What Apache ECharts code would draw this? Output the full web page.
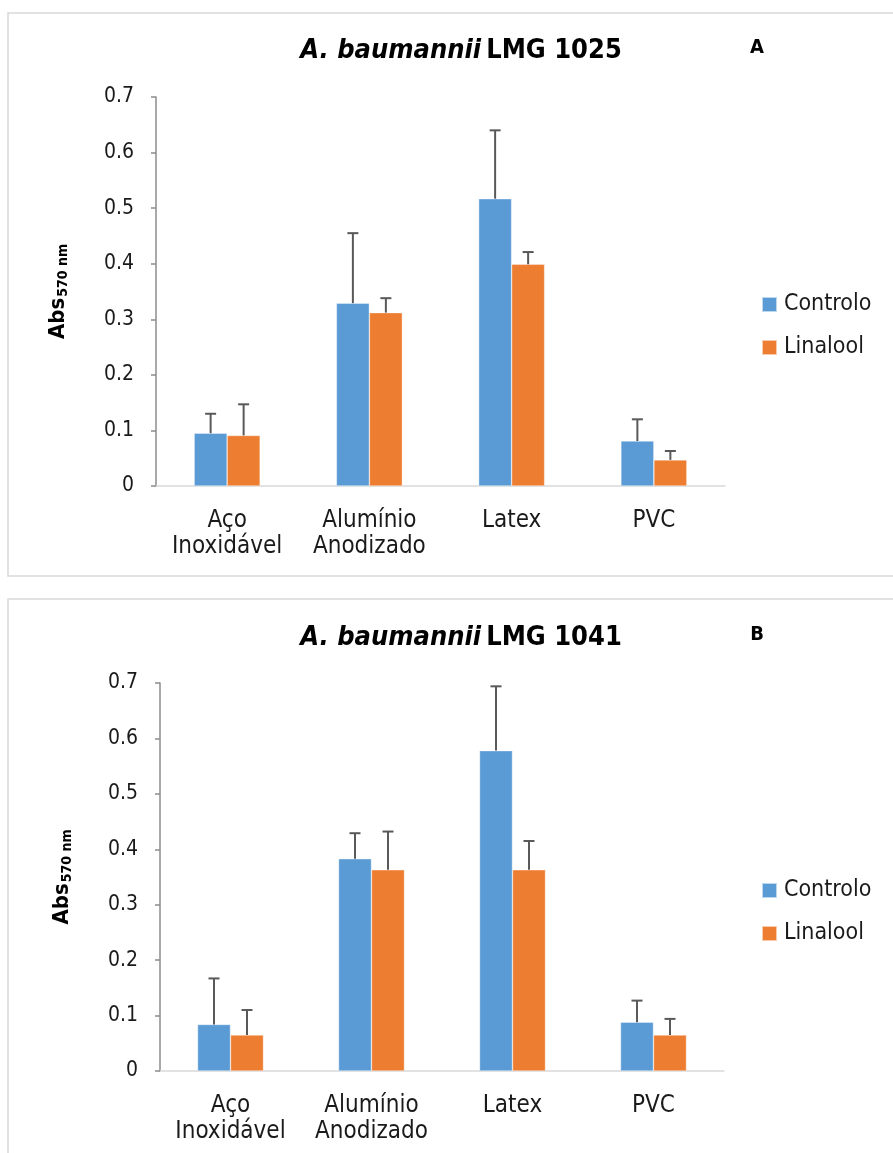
<!DOCTYPE html>
<html>
<head>
<meta charset="utf-8">
<script src="https://cdn.jsdelivr.net/npm/echarts@6/dist/echarts.min.js"></script>
<style>html,body{margin:0;padding:0;background:#fff}#c{width:893px;height:1153px}</style>
</head>
<body>
<div id="c"></div>
<script>
var categories = ['Aço\nInoxidável', 'Alumínio\nAnodizado', 'Latex', 'PVC'];
var seriesNames = ['Controlo', 'Linalool'];
// Chart A: A. baumannii LMG 1025
var controloA = [0.095, 0.329, 0.517, 0.081];
var controloErrA = [0.035, 0.126, 0.123, 0.039];
var linaloolA = [0.091, 0.312, 0.399, 0.047];
var linaloolErrA = [0.056, 0.026, 0.022, 0.016];
// Chart B: A. baumannii LMG 1041
var controloB = [0.084, 0.383, 0.578, 0.088];
var controloErrB = [0.083, 0.046, 0.116, 0.039];
var linaloolB = [0.065, 0.363, 0.363, 0.065];
var linaloolErrB = [0.045, 0.069, 0.052, 0.029];
var yTicks = {min: 0, max: 0.7, interval: 0.1};

var FONT = '"DejaVu Sans Condensed", "DejaVu Sans", sans-serif';
var BLUE = '#5B9BD5', ORANGE = '#ED7D31';
var BAR_W = 33;

function errSeries(name, vals, errs, gridIdx, side) {
  var data = vals.map(function (v, i) { return [i, v, v + errs[i]]; });
  return {
    type: 'custom', name: name + ' err', xAxisIndex: gridIdx, yAxisIndex: gridIdx,
    data: data, z: 5, silent: true,
    renderItem: function (params, api) {
      var lo = api.coord([api.value(0), api.value(1)]);
      var hi = api.coord([api.value(0), api.value(2)]);
      var x = lo[0] + side * BAR_W / 2;
      var cap = 5.5;
      return {
        type: 'group', children: [
          {type: 'line', shape: {x1: x, y1: lo[1], x2: x, y2: hi[1]}, style: {stroke: '#595959', lineWidth: 2}},
          {type: 'line', shape: {x1: x - cap, y1: hi[1], x2: x + cap, y2: hi[1]}, style: {stroke: '#595959', lineWidth: 2}}
        ]
      };
    }
  };
}

function barSeries(name, vals, gridIdx, color) {
  return {
    type: 'bar', name: name, xAxisIndex: gridIdx, yAxisIndex: gridIdx,
    data: vals, barWidth: BAR_W, barGap: '0%',
    itemStyle: {color: color, borderColor: 'rgba(255,255,255,0.6)', borderWidth: 0.6}
  };
}

function xAxis(gridIdx) {
  return {
    type: 'category', gridIndex: gridIdx, data: categories,
    axisLine: {lineStyle: {color: '#d9d9d9', width: 1.5}},
    axisTick: {show: false},
    axisLabel: {color: '#1a1a1a', fontSize: 24, fontFamily: FONT, lineHeight: 26, margin: 22, interval: 0}
  };
}
function yAxis(gridIdx) {
  return {
    type: 'value', gridIndex: gridIdx, min: yTicks.min, max: yTicks.max, interval: yTicks.interval,
    axisLine: {show: true, lineStyle: {color: '#8c8c8c', width: 1.5}},
    axisTick: {show: true, length: 5, lineStyle: {color: '#8c8c8c', width: 1.5}},
    splitLine: {show: false},
    axisLabel: {color: '#1a1a1a', fontSize: 21, fontFamily: FONT, margin: 22},
    name: '{a|Abs}{b|570 nm}', nameLocation: 'middle', nameRotate: 90, nameGap: 86,
    nameTextStyle: {
      rich: {
        a: {fontSize: 22, fontWeight: 'bold', fontFamily: FONT, color: '#000'},
        b: {fontSize: 14, fontWeight: 'bold', fontFamily: FONT, color: '#000', padding: [10, 0, 0, 1]}
      }
    }
  };
}
function legend(top) {
  return {
    orient: 'vertical', left: 756, top: top, itemWidth: 15, itemHeight: 15, itemGap: 20,
    data: seriesNames, icon: 'rect',
    textStyle: {fontSize: 23, fontFamily: FONT, color: '#1a1a1a', padding: [0, 0, 0, 2]}
  };
}
function titleOf(text, letter, top) {
  return [
    {text: '{i|A. baumannii} {n|' + text + '}', left: 456, top: top, textAlign: 'center',
      textStyle: {rich: {
        i: {fontSize: 27, fontWeight: 'bold', fontStyle: 'italic', fontFamily: FONT, color: '#000'},
        n: {fontSize: 27, fontWeight: 'bold', fontFamily: FONT, color: '#000'}
      }}},
    {text: letter, left: 752, top: top + 1, textAlign: 'center',
      textStyle: {fontSize: 20, fontWeight: 'bold', fontFamily: FONT, color: '#000'}}
  ];
}

var chart = echarts.init(document.getElementById('c'), null, {renderer: 'canvas'});
chart.setOption({
  animation: false,
  backgroundColor: '#fff',
  color: [BLUE, ORANGE],
  title: titleOf('LMG 1025', 'A', 32).concat(titleOf('LMG 1041', 'B', 619)),
  graphic: [
    {type: 'rect', shape: {x: 8, y: 13, width: 900, height: 563}, style: {fill: 'none', stroke: '#d9d9d9', lineWidth: 1.5}, z: -1},
    {type: 'rect', shape: {x: 8, y: 599, width: 900, height: 600}, style: {fill: 'none', stroke: '#d9d9d9', lineWidth: 1.5}, z: -1}
  ],
  legend: [legend(288), legend(874)],
  grid: [
    {left: 156, right: 168, top: 97, height: 389},
    {left: 160, right: 169, top: 683, height: 388}
  ],
  xAxis: [xAxis(0), xAxis(1)],
  yAxis: [yAxis(0), yAxis(1)],
  series: [
    barSeries('Controlo', controloA, 0, BLUE),
    barSeries('Linalool', linaloolA, 0, ORANGE),
    errSeries('Controlo', controloA, controloErrA, 0, -1),
    errSeries('Linalool', linaloolA, linaloolErrA, 0, 1),
    barSeries('Controlo', controloB, 1, BLUE),
    barSeries('Linalool', linaloolB, 1, ORANGE),
    errSeries('Controlo', controloB, controloErrB, 1, -1),
    errSeries('Linalool', linaloolB, linaloolErrB, 1, 1)
  ]
});
</script>
</body>
</html>
